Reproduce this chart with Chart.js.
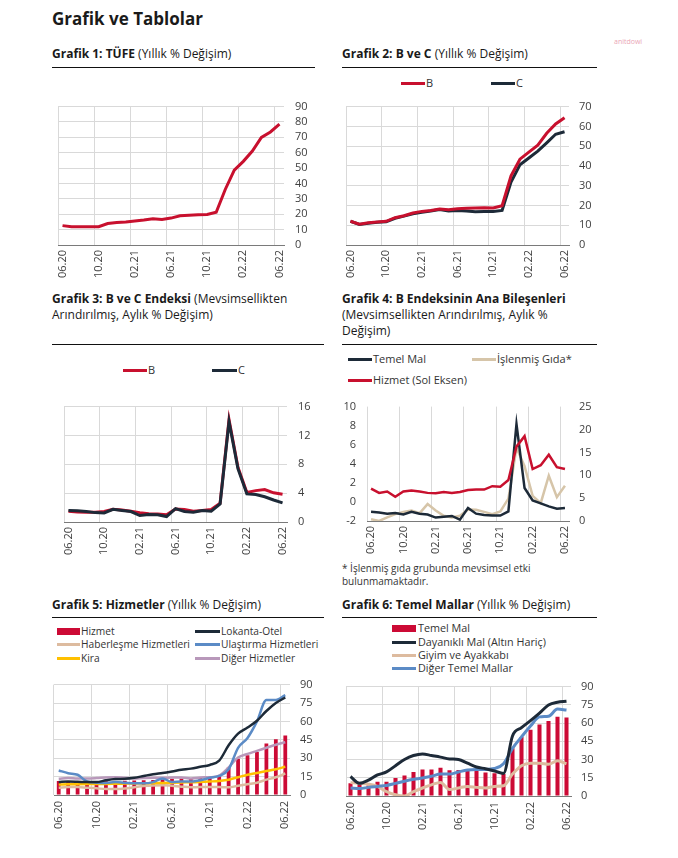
<!DOCTYPE html>
<html><head><meta charset="utf-8">
<script src="https://cdn.jsdelivr.net/npm/chart.js@4.4.1/dist/chart.umd.min.js"></script>
<style>
html,body{margin:0;padding:0;background:#fff;}
body{width:678px;height:858px;position:relative;overflow:hidden;font-family:'Open Sans',sans-serif;color:#1a1a1a;}
.a{position:absolute;white-space:nowrap;}
.t{font-size:12px;line-height:16px;color:#1a1a1a;}
.t b{font-weight:700;}
.rule{position:absolute;height:1px;background:#111;}
.lg{position:absolute;font-size:11px;line-height:14px;color:#333;white-space:nowrap;}
.sw{position:absolute;}
canvas{position:absolute;}
</style></head><body>
<div class="a" style="left:52px;top:7px;font-size:17px;line-height:24px;font-weight:700;">Grafik ve Tablolar</div>
<div class="a" style="left:614px;top:37px;font-size:7px;line-height:9px;color:#eaa6b6;">anitdowi</div>

<div class="a t" style="left:52px;top:46px"><b>Grafik 1: TÜFE</b> (Yıllık % Değişim)</div>
<div class="a t" style="left:342px;top:46px"><b>Grafik 2: B ve C</b> (Yıllık % Değişim)</div>
<div class="a t" style="left:52px;top:291px"><b>Grafik 3: B ve C Endeksi</b> (Mevsimsellikten<br>Arındırılmış, Aylık % Değişim)</div>
<div class="a t" style="left:342px;top:291px"><b>Grafik 4: B Endeksinin Ana Bileşenleri</b><br>(Mevsimsellikten Arındırılmış, Aylık %<br>Değişim)</div>
<div class="a t" style="left:52px;top:597px"><b>Grafik 5: Hizmetler</b> (Yıllık % Değişim)</div>
<div class="a t" style="left:342px;top:597px"><b>Grafik 6: Temel Mallar</b> (Yıllık % Değişim)</div>

<div class="rule" style="left:52px;top:67px;width:263px"></div>
<div class="rule" style="left:342px;top:67px;width:255px"></div>
<div class="rule" style="left:52px;top:344px;width:272px"></div>
<div class="rule" style="left:342px;top:344px;width:255px"></div>
<div class="rule" style="left:52px;top:617px;width:272px"></div>
<div class="rule" style="left:342px;top:617px;width:255px"></div>

<div class="a" style="left:342px;top:562px;font-size:10px;line-height:13px;color:#333;">* İşlenmiş gıda grubunda mevsimsel etki<br>bulunmamaktadır.</div>

<script>
// ---------- DATA ----------
const months = ['06.20','07.20','08.20','09.20','10.20','11.20','12.20','01.21','02.21','03.21','04.21','05.21','06.21','07.21','08.21','09.21','10.21','11.21','12.21','01.22','02.22','03.22','04.22','05.22','06.22'];

// Grafik 1
const tufe = [12.6,11.8,11.8,11.8,11.9,14.0,14.6,15.0,15.6,16.2,17.1,16.6,17.5,19.0,19.3,19.6,19.9,21.3,36.1,48.7,54.4,61.1,70.0,73.5,78.6];

// Grafik 2
const bAnnual = [12.0,10.5,11.2,11.6,12.0,13.8,14.8,16.2,17.0,17.5,18.2,17.8,18.3,18.6,18.7,18.8,18.7,19.9,35.0,43.4,47.0,50.5,56.5,61.2,64.4];
const cAnnual = [12.0,10.4,11.0,11.5,11.8,13.5,14.6,15.8,16.5,17.2,18.0,17.2,17.5,17.2,16.8,17.0,17.0,17.5,31.8,40.6,44.0,47.5,51.7,56.0,57.3];

// Grafik 3
const bMonthly = [1.5,1.4,1.35,1.35,1.45,1.75,1.65,1.5,1.3,1.15,1.1,1.0,1.8,1.75,1.5,1.6,1.75,2.6,14.2,7.6,4.1,4.35,4.5,4.05,3.85];
const cMonthly = [1.6,1.55,1.45,1.3,1.25,1.75,1.6,1.45,0.9,1.05,1.0,0.75,1.85,1.45,1.35,1.6,1.5,2.5,13.9,7.4,3.9,3.8,3.5,3.05,2.65];

// Grafik 4
const hizmetM = [1.4,0.95,1.1,0.55,1.1,1.2,1.1,0.95,0.9,1.05,0.95,1.05,1.25,1.3,1.3,1.65,1.6,2.3,5.8,6.9,3.45,3.85,4.95,3.65,3.45];
const temelMalM = [2.0,1.85,1.6,1.75,1.45,2.0,1.6,1.4,0.75,0.95,1.1,0.3,2.85,1.6,1.3,1.2,1.2,2.1,21.2,7.2,4.5,3.85,3.2,2.7,2.85];
const islenmisGidaM = [0.4,0.0,0.8,1.5,1.95,2.3,1.7,3.7,2.3,1.15,0.75,1.15,2.5,2.45,2.0,1.5,2.1,4.9,16.0,12.0,5.5,3.9,9.9,5.2,7.7];

// Grafik 5
const hizmet = [11.5,11.2,11.3,10.8,11.0,11.2,11.5,11.6,11.8,12.0,12.3,12.6,13.2,13.5,13.8,14.0,14.3,15.5,22.5,29.5,32.5,35.0,42.0,45.5,48.5];
const lokantaOtel = [10.5,11.0,10.8,10.5,10.5,12.0,13.0,13.2,14.0,15.5,17.0,18.0,19.2,20.5,21.5,23.0,24.5,28.0,40.5,50.0,55.0,60.5,68.5,75.0,79.5];
const haberlesme = [6.0,6.5,6.5,6.0,5.5,4.8,4.8,5.3,6.3,7.3,7.8,8.0,7.5,6.8,6.3,6.5,6.5,6.5,6.3,7.5,8.8,10.0,12.5,14.5,17.5];
const ulastirma = [20.0,17.8,16.5,11.0,10.0,9.8,10.5,10.0,9.5,9.5,10.5,13.5,10.5,11.0,11.0,12.0,14.0,15.5,21.0,38.5,46.5,60.0,77.5,77.5,81.5];
const kira = [8.5,8.7,8.8,8.9,9.0,9.0,9.2,9.3,9.4,9.5,9.6,9.8,10.0,10.2,10.4,10.6,11.0,11.5,12.5,14.5,16.5,18.0,19.5,21.0,23.0];
const digerHizmetler = [13.3,13.8,13.5,13.5,13.8,14.3,14.5,14.0,13.5,13.8,14.0,14.0,14.3,14.3,13.5,14.3,14.5,15.8,22.5,30.5,33.5,36.0,38.5,41.0,43.0];

// Grafik 6
const temelMal = [10.4,9.2,8.7,11.7,11.7,14.8,16.8,19.8,21.9,21.9,23.2,21.1,21.4,21.9,20.6,19.3,18.8,18.0,39.2,48.6,54.5,58.8,61.8,65.1,64.6];
const dayanikli = [16.0,10.4,13.0,17.3,19.8,24.9,30.0,33.3,34.6,33.3,32.0,30.5,30.0,27.0,23.9,22.4,20.6,18.6,49.4,56.2,62.0,68.2,74.8,77.1,77.9];
const giyim = [11.0,10.4,9.7,7.9,3.6,1.0,0.0,3.6,6.6,9.2,11.2,5.3,6.6,7.9,7.1,6.6,7.9,8.4,18.0,24.9,27.0,27.0,26.2,29.0,26.5];
const digerTemel = [6.6,6.1,7.1,7.9,8.7,10.4,12.2,13.7,14.8,16.3,18.0,18.0,19.8,21.4,21.9,21.9,22.6,26.5,39.2,48.6,57.5,65.1,65.6,71.5,70.7];

// ---------- STYLE ----------
const RED = '#C8102E', BAR = '#CC0A35', DARK = '#1D2A38', BEIGE = '#D6C5A9', TAN = '#DDBB9F',
      BLUE = '#5B8BC6', YELLOW = '#FFC000', MAUVE = '#B898BA', GRID = '#d9d9d9';

Chart.defaults.font.family = "'Open Sans', sans-serif";
Chart.defaults.font.size = 11;
Chart.defaults.color = '#404040';
Chart.defaults.animation = false;

function xScale(h, pad) {
  return {
    type: 'category', offset: true,
    grid: { offset: true, drawTicks: false, lineWidth: 1,
      color: c => (typeof c.index === 'number' && c.index % 4 === 0 ? GRID : 'rgba(0,0,0,0)') },
    border: { display: true, color: '#7a7a7a', width: 1 },
    ticks: { autoSkip: false, maxRotation: 90, minRotation: 90, padding: pad,
      callback: (v, i) => (i % 4 === 0 ? months[i] : '') },
    afterFit: s => { s.height = h; }
  };
}
function yScale(pos, min, max, step, w, pad, showGrid) {
  return {
    position: pos, min: min, max: max,
    ticks: { stepSize: step, padding: pad, autoSkip: false },
    grid: { display: showGrid, drawTicks: false, color: GRID },
    border: { display: false },
    afterFit: s => { s.width = w; }
  };
}
function line(label, data, color, width, extra) {
  return Object.assign({ type: 'line', label: label, data: data, borderColor: color, backgroundColor: color,
    borderWidth: width, pointRadius: 0, fill: false, tension: 0 }, extra || {});
}
function make(b, type, datasets, scales) {
  const pl = 8, pt = 8, pr = 0;
  const left = b.x1 - (b.lw || 0) - pl, top = b.y1 - pt;
  const w = b.x2 + b.rw + pr - left, h = b.y2 + b.bh - top;
  const c = document.createElement('canvas');
  c.width = w; c.height = h;
  c.style.left = left + 'px'; c.style.top = top + 'px';
  c.style.width = w + 'px'; c.style.height = h + 'px';
  document.body.appendChild(c);
  new Chart(c, {
    type: type,
    data: { labels: months, datasets: datasets },
    options: {
      responsive: false, animation: false, devicePixelRatio: 1,
      layout: { autoPadding: false, padding: { left: pl, top: pt, right: pr, bottom: 0 } },
      plugins: { legend: { display: false }, tooltip: { enabled: false } },
      scales: scales
    }
  });
}
function legLine(x1, x2, yc, color, thick, text, tx, fs) {
  const s = document.createElement('div');
  s.className = 'sw';
  s.style.left = x1 + 'px'; s.style.width = (x2 - x1) + 'px';
  s.style.top = (yc - thick / 2) + 'px'; s.style.height = thick + 'px';
  s.style.background = color;
  document.body.appendChild(s);
  const t = document.createElement('div');
  t.className = 'lg'; t.textContent = text;
  if (fs) t.style.fontSize = fs + 'px';
  t.style.left = tx + 'px'; t.style.top = (yc - 7.5) + 'px';
  document.body.appendChild(t);
}

// ---------- CHART 1 ----------
make({x1:58, y1:97, x2:284, y2:245, rw:32, bh:40}, 'line',
  [line('TÜFE', tufe, RED, 3)],
  { x: xScale(40, 5), y: yScale('right', 0, 90, 10, 32, 11, true) });

// ---------- CHART 2 ----------
legLine(401, 425, 83, RED, 3, 'B', 426);
legLine(491, 515, 83, DARK, 3, 'C', 516);
make({x1:346, y1:98, x2:569, y2:245, rw:32, bh:40}, 'line',
  [line('B', bAnnual, RED, 3), line('C', cAnnual, DARK, 3)],
  { x: xScale(40, 5), y: yScale('right', 0, 70, 10, 32, 10, true) });

// ---------- CHART 3 ----------
legLine(123, 147, 370, RED, 3, 'B', 148);
legLine(212, 237, 370, DARK, 3, 'C', 238);
make({x1:64, y1:397, x2:287, y2:522, rw:32, bh:40}, 'line',
  [line('C', cMonthly, DARK, 3), line('B', bMonthly, RED, 3)],
  { x: xScale(40, 5), y: yScale('right', 0, 16, 4, 32, 11, true) });

// ---------- CHART 4 ----------
legLine(348, 372, 359, DARK, 3, 'Temel Mal', 373);
legLine(472, 496, 359, BEIGE, 3, 'İşlenmiş Gıda*', 497);
legLine(348, 372, 380, RED, 3, 'Hizmet (Sol Eksen)', 373);
make({x1:367, y1:397, x2:569, y2:521, lw:30, rw:32, bh:40}, 'line',
  [line('Hizmet (Sol Eksen)', hizmetM, RED, 2.5, {yAxisID: 'y'}),
   line('Temel Mal', temelMalM, DARK, 2.5, {yAxisID: 'y1'}),
   line('İşlenmiş Gıda*', islenmisGidaM, BEIGE, 2.5, {yAxisID: 'y1'})],
  { x: xScale(40, 5),
    y: yScale('left', -2, 10, 2, 30, 11, false),
    y1: yScale('right', 0, 25, 5, 32, 10, false) });

// ---------- CHART 5 ----------
(function(){
  const b = document.createElement('div'); b.className = 'sw';
  b.style.cssText = 'left:57px;top:628px;width:23px;height:7px;background:' + BAR;
  document.body.appendChild(b);
  const t = document.createElement('div'); t.className = 'lg'; t.textContent = 'Hizmet';
  t.style.fontSize = '10.2px';
  t.style.left = '81px'; t.style.top = (631 - 7.5) + 'px'; document.body.appendChild(t);
})();
legLine(57, 80, 644, TAN, 3, 'Haberleşme Hizmetleri', 81, 10.2);
legLine(57, 80, 658, YELLOW, 3, 'Kira', 81, 10.2);
legLine(195, 220, 631, DARK, 3, 'Lokanta-Otel', 221, 10.2);
legLine(195, 220, 644, BLUE, 3, 'Ulaştırma Hizmetleri', 221, 10.2);
legLine(195, 220, 658, MAUVE, 3, 'Diğer Hizmetler', 221, 10.2);
const sm = { cubicInterpolationMode: 'monotone', order: 0 };
make({x1:54, y1:676, x2:290, y2:795, rw:32, bh:40}, 'bar',
  [line('Lokanta-Otel', lokantaOtel, DARK, 2.5, sm),
   line('Ulaştırma Hizmetleri', ulastirma, BLUE, 2.5, sm),
   line('Diğer Hizmetler', digerHizmetler, MAUVE, 2.5, sm),
   line('Kira', kira, YELLOW, 2.5, sm),
   line('Haberleşme Hizmetleri', haberlesme, TAN, 2.5, sm),
   { type: 'bar', label: 'Hizmet', data: hizmet, backgroundColor: BAR, borderWidth: 0,
     barPercentage: 0.4, categoryPercentage: 1, order: 1 }],
  { x: xScale(40, 6), y: yScale('right', 0, 90, 15, 32, 10, true) });

// ---------- CHART 6 ----------
(function(){
  const b = document.createElement('div'); b.className = 'sw';
  b.style.cssText = 'left:392px;top:625px;width:24px;height:7px;background:' + BAR;
  document.body.appendChild(b);
  const t = document.createElement('div'); t.className = 'lg'; t.textContent = 'Temel Mal';
  t.style.fontSize = '10.8px';
  t.style.left = '418px'; t.style.top = (628 - 7.5) + 'px'; document.body.appendChild(t);
})();
legLine(392, 416, 642, DARK, 3, 'Dayanıklı Mal (Altın Hariç)', 418, 10.8);
legLine(392, 416, 655, TAN, 3, 'Giyim ve Ayakkabı', 418, 10.8);
legLine(392, 416, 668, BLUE, 3, 'Diğer Temel Mallar', 418, 10.8);
make({x1:346, y1:678, x2:571, y2:796, rw:32, bh:40}, 'bar',
  [line('Dayanıklı Mal (Altın Hariç)', dayanikli, DARK, 3, sm),
   line('Diğer Temel Mallar', digerTemel, BLUE, 3, sm),
   line('Giyim ve Ayakkabı', giyim, TAN, 3, sm),
   { type: 'bar', label: 'Temel Mal', data: temelMal, backgroundColor: BAR, borderWidth: 0,
     barPercentage: 0.45, categoryPercentage: 1, order: 1 }],
  { x: xScale(40, 6), y: yScale('right', 0, 90, 15, 32, 10, true) });
</script>
</body></html>
